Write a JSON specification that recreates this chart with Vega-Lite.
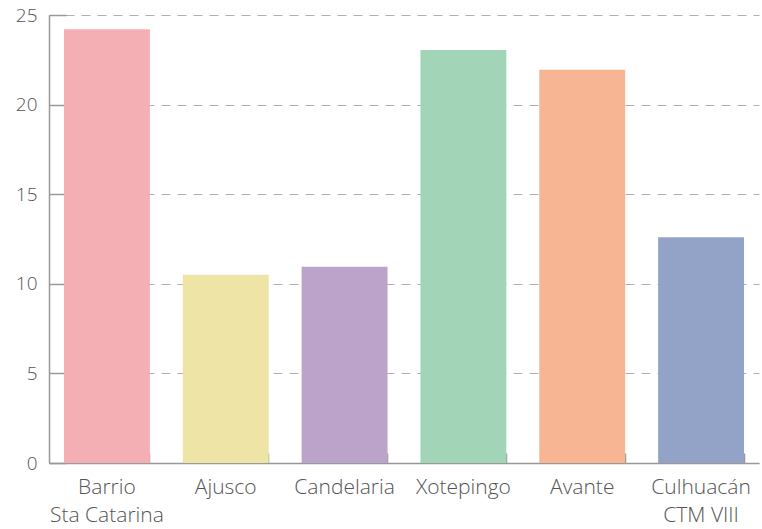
{
  "$schema": "https://vega.github.io/schema/vega-lite/v6.json",
  "width": 710,
  "height": 448,
  "autosize": {"type": "none"},
  "padding": {"left": 49, "top": 15, "right": 3, "bottom": 66},
  "background": "white",
  "data": {
    "values": [
      {"lugar": "Barrio Sta Catarina", "valor": 24.2},
      {"lugar": "Ajusco", "valor": 10.5},
      {"lugar": "Candelaria", "valor": 10.95},
      {"lugar": "Xotepingo", "valor": 23.05},
      {"lugar": "Avante", "valor": 21.95},
      {"lugar": "Culhuacán CTM VIII", "valor": 12.6}
    ]
  },
  "mark": {"type": "bar"},
  "encoding": {
    "x": {
      "field": "lugar",
      "type": "nominal",
      "sort": null,
      "scale": {"paddingInner": 0.277, "paddingOuter": 0.126},
      "axis": {
        "title": null,
        "labelAngle": 0,
        "labelFont": "Open Sans",
        "labelFontWeight": 300,
        "labelFontSize": 21,
        "labelColor": "#555555",
        "labelPadding": 23,
        "labelLineHeight": 28,
        "labelExpr": "datum.value == 'Barrio Sta Catarina' ? ['Barrio', 'Sta Catarina'] : datum.value == 'Culhuacán CTM VIII' ? ['Culhuacán', 'CTM VIII'] : datum.value",
        "bandPosition": 1,
        "tickSize": -10,
        "tickColor": "#999999",
        "tickWidth": 1.5,
        "domainColor": "#999999",
        "domainWidth": 1.5,
        "grid": false
      }
    },
    "y": {
      "field": "valor",
      "type": "quantitative",
      "scale": {"domain": [0, 25], "nice": false},
      "axis": {
        "title": null,
        "values": [0, 5, 10, 15, 20, 25],
        "labelFont": "Open Sans",
        "labelFontWeight": 300,
        "labelFontSize": 19,
        "labelColor": "#555555",
        "labelPadding": 29,
        "tickSize": -17,
        "tickColor": "#999999",
        "tickWidth": 1.5,
        "domainColor": "#999999",
        "domainWidth": 1.5,
        "grid": true,
        "gridColor": "#b0b0b0",
        "gridDash": [9, 7],
        "gridWidth": 1
      }
    },
    "color": {
      "field": "lugar",
      "type": "nominal",
      "sort": null,
      "legend": null,
      "scale": {
        "domain": ["Barrio Sta Catarina", "Ajusco", "Candelaria", "Xotepingo", "Avante", "Culhuacán CTM VIII"],
        "range": ["#F4AFB4", "#EEE4A6", "#BBA3CA", "#A2D5B8", "#F7B593", "#93A3C8"]
      }
    }
  },
  "config": {"view": {"stroke": null}}
}
